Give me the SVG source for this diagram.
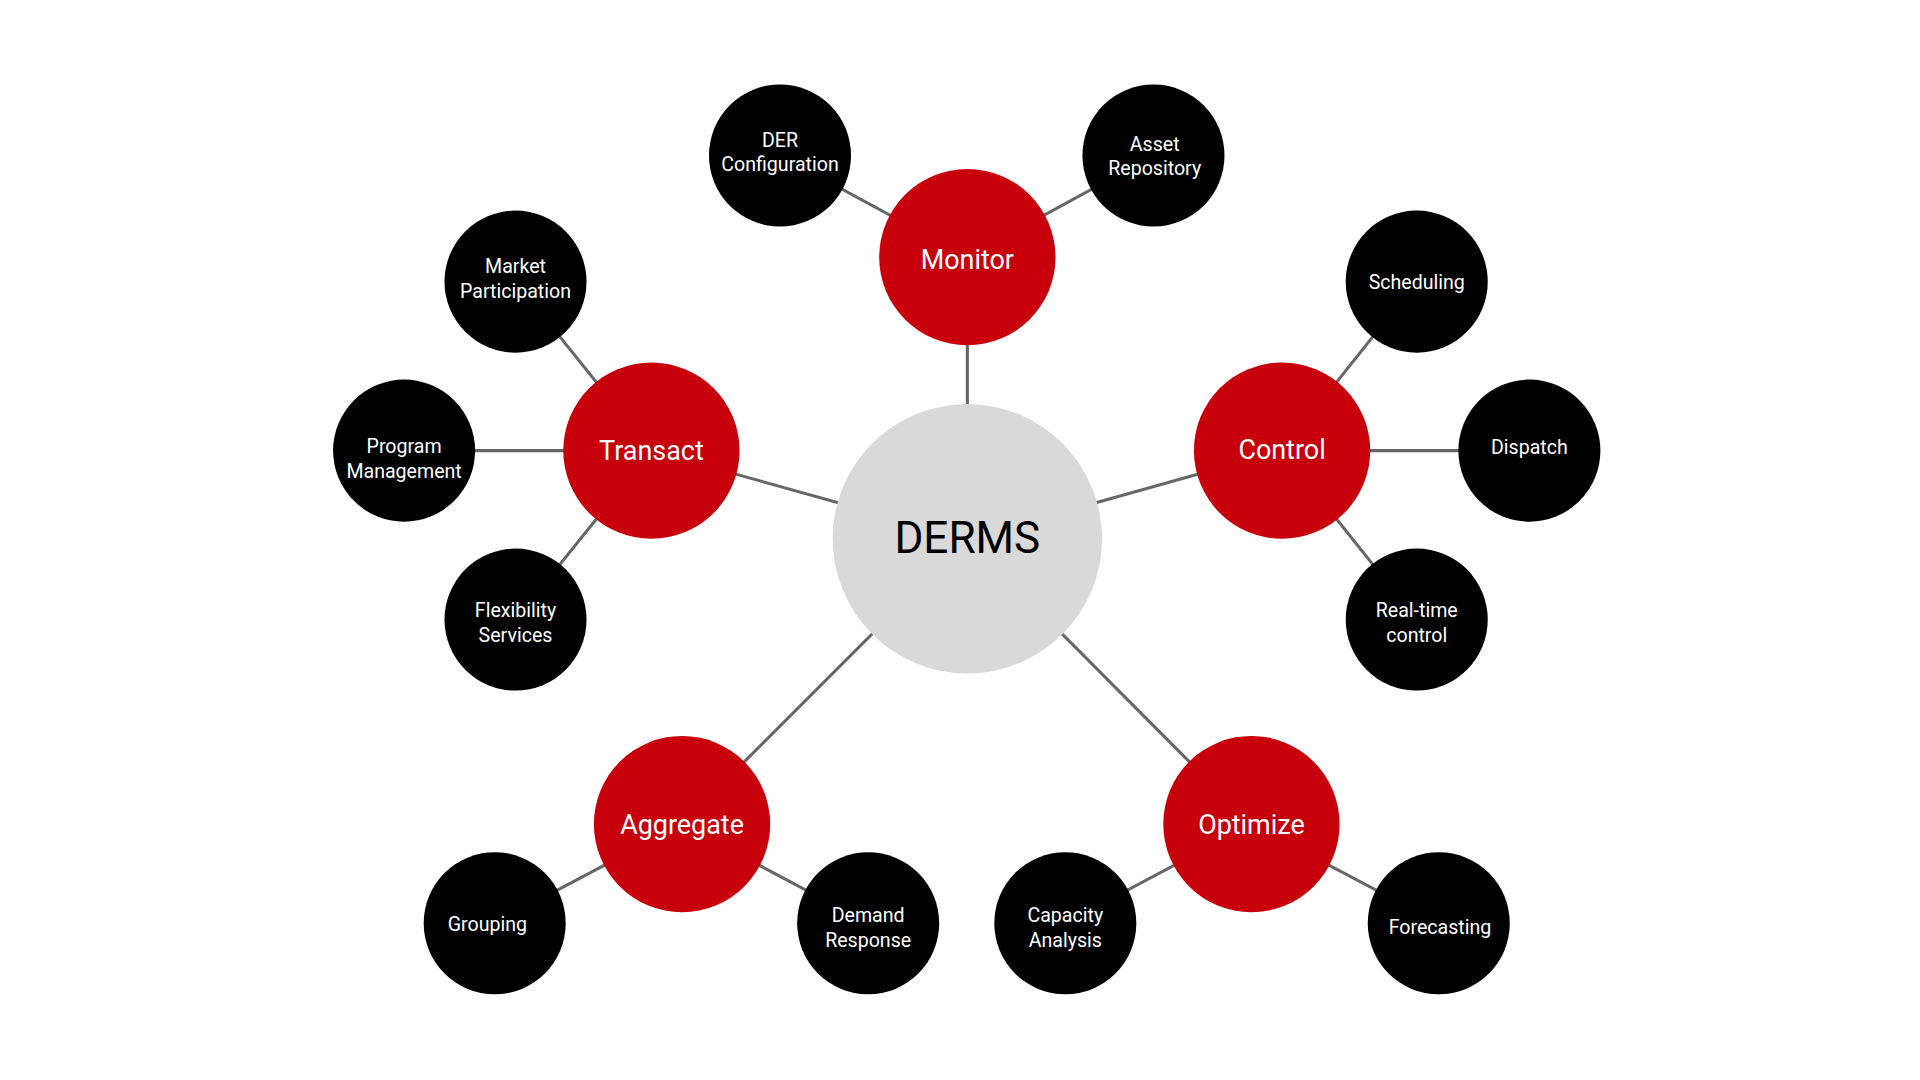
<svg xmlns="http://www.w3.org/2000/svg" width="1920" height="1080" viewBox="0 0 1920 1080">
<style>
.c line{stroke:#666;stroke-width:2.5}
.r circle{fill:#c8000b}
.b circle{fill:#000}
text{font-family:Roboto,"Liberation Sans",sans-serif;fill:#fff;text-anchor:middle}
.r text{font-size:22px}
.b text{font-size:16px}
</style>
<rect width="1920" height="1080" fill="#fff"/>
<g transform="scale(1.22449)">
<g class="c">
<line x1="790" y1="440" x2="790" y2="210"/><line x1="790" y1="440" x2="532" y2="368"/><line x1="790" y1="440" x2="1047" y2="368"/><line x1="790" y1="440" x2="557" y2="673"/><line x1="790" y1="440" x2="1022" y2="673"/>
<line x1="790" y1="210" x2="637" y2="127"/><line x1="790" y1="210" x2="942" y2="127"/>
<line x1="532" y1="368" x2="421" y2="230"/><line x1="532" y1="368" x2="330" y2="368"/><line x1="532" y1="368" x2="421" y2="506"/>
<line x1="1047" y1="368" x2="1157" y2="230"/><line x1="1047" y1="368" x2="1249" y2="368"/><line x1="1047" y1="368" x2="1157" y2="506"/>
<line x1="557" y1="673" x2="404" y2="754"/><line x1="557" y1="673" x2="709" y2="754"/>
<line x1="1022" y1="673" x2="870" y2="754"/><line x1="1022" y1="673" x2="1175" y2="754"/>
</g>
<g id="derms"><circle cx="790" cy="440" r="110" fill="#d9d9d9"/><text x="790" y="452" font-size="36" style="fill:#000">DERMS</text></g>
<g id="monitor" class="r"><circle cx="790" cy="210" r="72"/><text x="790" y="220">Monitor</text></g>
<g id="transact" class="r"><circle cx="532" cy="368" r="72"/><text x="532" y="376">Transact</text></g>
<g id="control" class="r"><circle cx="1047" cy="368" r="72"/><text x="1047" y="375">Control</text></g>
<g id="aggregate" class="r"><circle cx="557" cy="673" r="72"/><text x="557" y="681">Aggregate</text></g>
<g id="optimize" class="r"><circle cx="1022" cy="673" r="72"/><text x="1022" y="681">Optimize</text></g>
<g id="derconf" class="b"><circle cx="637" cy="127" r="58"/><text x="637" y="120">DER</text><text x="637" y="140">Configuration</text></g>
<g id="asset" class="b"><circle cx="942" cy="127" r="58"/><text x="943" y="123">Asset</text><text x="943" y="143">Repository</text></g>
<g id="market" class="b"><circle cx="421" cy="230" r="58"/><text x="421" y="223">Market</text><text x="421" y="243">Participation</text></g>
<g id="program" class="b"><circle cx="330" cy="368" r="58"/><text x="330" y="370">Program</text><text x="330" y="390">Management</text></g>
<g id="flex" class="b"><circle cx="421" cy="506" r="58"/><text x="421" y="504">Flexibility</text><text x="421" y="524">Services</text></g>
<g id="sched" class="b"><circle cx="1157" cy="230" r="58"/><text x="1157" y="236">Scheduling</text></g>
<g id="dispatch" class="b"><circle cx="1249" cy="368" r="58"/><text x="1249" y="371">Dispatch</text></g>
<g id="realtime" class="b"><circle cx="1157" cy="506" r="58"/><text x="1157" y="504">Real-time</text><text x="1157" y="524">control</text></g>
<g id="grouping" class="b"><circle cx="404" cy="754" r="58"/><text x="398" y="760">Grouping</text></g>
<g id="demand" class="b"><circle cx="709" cy="754" r="58"/><text x="709" y="753">Demand</text><text x="709" y="773">Response</text></g>
<g id="capacity" class="b"><circle cx="870" cy="754" r="58"/><text x="870" y="753">Capacity</text><text x="870" y="773">Analysis</text></g>
<g id="forecast" class="b"><circle cx="1175" cy="754" r="58"/><text x="1176" y="763">Forecasting</text></g>
</g>
</svg>
